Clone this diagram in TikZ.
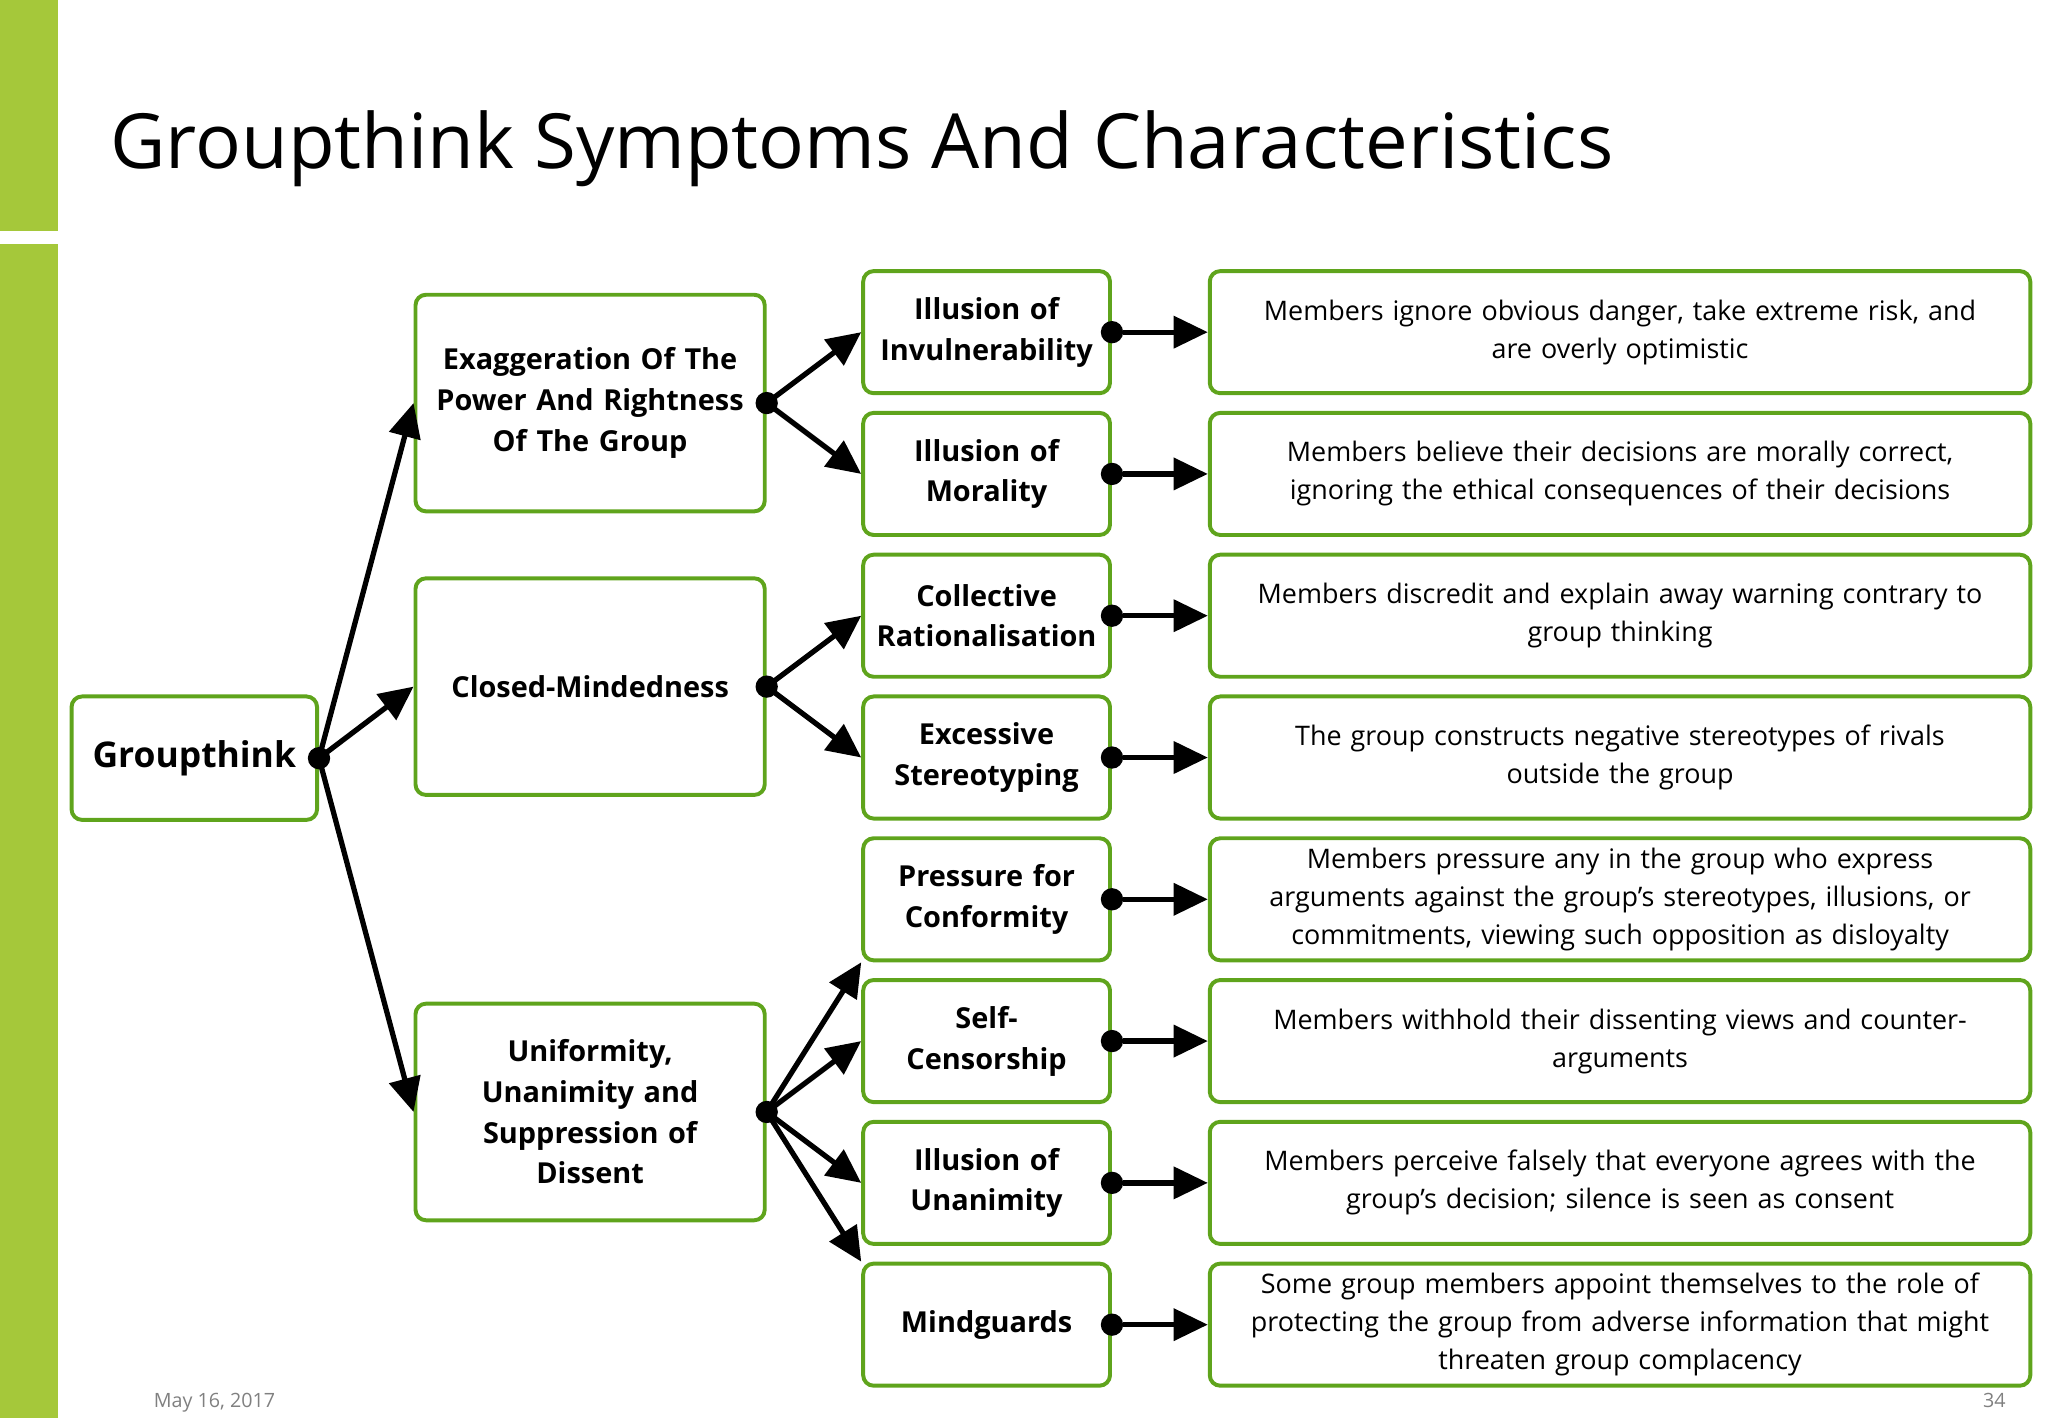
\documentclass[tikz,border=0pt]{standalone}
\usepackage{fontspec}
\setmainfont{Open Sans}
\usetikzlibrary{arrows.meta}
\definecolor{bar}{HTML}{A5C83A}
\definecolor{bd}{HTML}{5FA41C}
\begin{document}
\begin{tikzpicture}[x=1pt,y=-1pt,
 box/.style={draw=bd,line width=3pt,rounded corners=8pt,anchor=north west,align=center,inner sep=2pt},
 l2/.style={box,minimum width=266pt,minimum height=165pt,text width=260pt,font=\fontsize{22}{31}\selectfont\bfseries},
 l3/.style={box,minimum width=188pt,minimum height=93pt,text width=184pt,font=\fontsize{22}{31}\selectfont\bfseries},
 l4/.style={box,minimum width=625pt,minimum height=93pt,text width=615pt,font=\fontsize{20.5}{29}\selectfont},
 arr/.style={line width=4pt,-{Triangle[length=26pt,width=24pt]}},
 dot/.style={circle,fill=black,inner sep=0pt,minimum size=17pt}]
\useasboundingbox (0,0) rectangle (1560,1080);
\fill[bar] (0,0) rectangle (44,176);
\fill[bar] (0,186) rectangle (44,1080);
\node[anchor=base west,font=\fontsize{58}{60}\selectfont,inner sep=0] at (84,128) {Groupthink Symptoms And Characteristics};
\node[box,minimum width=187pt,minimum height=94pt,font=\fontsize{27}{31}\selectfont\bfseries] (g) at (53,529) {Groupthink};
\node[l2] (a) at (315,223) {Exaggeration Of The\\Power And Rightness\\Of The Group};
\node[l2] (b) at (315,439) {Closed-Mindedness};
\node[l2] (c) at (315,763) {Uniformity,\\Unanimity and\\Suppression of\\Dissent};
\foreach \i/\t/\d in {
 1/{Illusion of\\Invulnerability}/{Members ignore obvious danger, take extreme risk, and\\are overly optimistic},
 2/{Illusion of\\Morality}/{Members believe their decisions are morally correct,\\ignoring the ethical consequences of their decisions},
 3/{Collective\\Rationalisation}/{Members discredit and explain away warning contrary to\\group thinking},
 4/{Excessive\\Stereotyping}/{The group constructs negative stereotypes of rivals\\outside the group},
 5/{Pressure for\\Conformity}/{Members pressure any in the group who express\\arguments against the group's stereotypes, illusions, or\\commitments, viewing such opposition as disloyalty},
 6/{Self-\\Censorship}/{Members withhold their dissenting views and counter-\\arguments},
 7/{Illusion of\\Unanimity}/{Members perceive falsely that everyone agrees with the\\group's decision; silence is seen as consent},
 8/{Mindguards}/{Some group members appoint themselves to the role of\\protecting the group from adverse information that might\\threaten group complacency}}{
 \node[l3] (s\i) at (656,205+108*\i-108) {\t};
 \node[l4] (d\i) at (920,205+108*\i-108) {\d};
 \node[dot] (p\i) at (s\i.east) {};
 \draw[arr] (p\i) -- (d\i.west);
}
\node[dot] (pg) at (g.east) {};
\node[dot] (pa) at (a.east) {};
\node[dot] (pb) at (b.east) {};
\node[dot] (pc) at (c.east) {};
\draw[arr] (pg.center) -- (a.west);
\draw[arr] (pg.center) -- (b.west);
\draw[arr] (pg.center) -- (c.west);
\draw[arr] (pa.center) -- (s1.west);
\draw[arr] (pa.center) -- (s2.west);
\draw[arr] (pb.center) -- (s3.west);
\draw[arr] (pb.center) -- (s4.west);
\draw[arr] (pc.center) -- (s5.south west);
\draw[arr] (pc.center) -- (s6.west);
\draw[arr] (pc.center) -- (s7.west);
\draw[arr] (pc.center) -- (s8.north west);
\node[anchor=base west,text=gray,font=\fontsize{15}{18}\selectfont,inner sep=0] (date) at (117,1072) {May 16, 2017};
\node[anchor=base east,text=gray,font=\fontsize{15}{18}\selectfont,inner sep=0] (num) at (1528,1072) {34};
\end{tikzpicture}
\end{document}
